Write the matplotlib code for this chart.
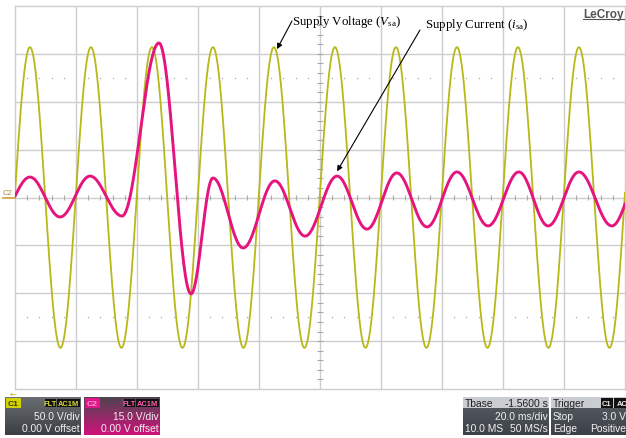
import numpy as np
import matplotlib.pyplot as plt

plt.rcParams['mathtext.fontset'] = 'custom'
plt.rcParams['mathtext.rm'] = 'Liberation Serif'
plt.rcParams['mathtext.it'] = 'Liberation Serif:italic'

# C1: supply voltage, successive half-cycle extrema (time in ms, volts)
volt_times = [-5.1, 4.9, 14.9, 24.9, 34.9, 44.9, 54.9, 64.9, 74.9, 84.9, 94.9,
              104.9, 114.9, 124.9, 134.9, 144.9, 154.9, 164.9, 174.9, 184.9, 194.9, 204.9]
volt_peaks = [-157, 157, -157, 157, -157, 157, -157, 157, -157, 157, -157,
              157, -157, 157, -157, 157, -157, 157, -157, 157, -157, 157]

# C2: supply current, successive half-cycle extrema (time in ms, probe volts)
curr_times = [-5.1, 4.9, 14.8, 24.6, 35.1, 47.2, 57.7, 64.9, 74.8, 85.2, 95.1,
              105.6, 115.4, 125.2, 135.1, 144.9, 155.1, 165.2, 174.8, 184.9, 195.7, 205.5]
curr_peaks = [-6.0, 6.4, -6.1, 6.7, -5.8, 48.4, -30.2, 6.1, -15.8, 5.2, -12.1,
              6.7, -9.9, 7.7, -9.2, 8.0, -8.9, 8.0, -8.9, 8.0, -8.9, 8.0]

volts_per_div = {'C1': 50.0, 'C2': 15.0}
ms_per_div = 20.0

c1_color = '#b8b818'
c2_color = '#e6147f'
grid_color = '#cdcdcd'


def through_extrema(times, peaks, t):
    times = np.asarray(times, dtype=float)
    peaks = np.asarray(peaks, dtype=float)
    k = np.clip(np.searchsorted(times, t) - 1, 0, len(times) - 2)
    frac = (t - times[k]) / (times[k + 1] - times[k])
    return peaks[k] + (peaks[k + 1] - peaks[k]) * (1 - np.cos(np.pi * frac)) / 2


W, H = 626, 439
fig = plt.figure(figsize=(W / 100, H / 100), dpi=100)

# scope screen: 10 x 8 divisions
ax = fig.add_axes([15 / W, (H - 390) / H, 610 / W, 383 / H])
ax.set_xlim(0, 10 * ms_per_div)
ax.set_ylim(-4, 4)
ax.set_xticks([])
ax.set_yticks([])
for spine in ax.spines.values():
    spine.set_color(grid_color)
    spine.set_linewidth(1.0)

for i in range(1, 10):
    ax.axvline(i * ms_per_div, color=grid_color, lw=1.0, zorder=1)
for j in range(-3, 4):
    ax.axhline(j, color=grid_color, lw=1.0, zorder=1)

# minor ticks along the centre cross
minor_x = np.arange(0, 200, 4)
ax.vlines(minor_x, -0.06, 0.06, color='#a9a9a9', lw=0.8, zorder=1)
minor_y = np.arange(-4, 4, 0.2)
ax.hlines(minor_y, 100 - 0.9, 100 + 0.9, color='#a9a9a9', lw=0.8, zorder=1)
dot_x = [x for x in minor_x if x % 20 != 0]
for row in (2.5, -2.5):
    ax.scatter(dot_x, [row] * len(dot_x), s=1.0, color='#a8a8a8', zorder=1, linewidths=0)

t = np.linspace(0, 200, 5000)
v = through_extrema(volt_times, volt_peaks, t) / volts_per_div['C1']
i_sa = through_extrema(curr_times, curr_peaks, t) / volts_per_div['C2']
ax.plot(t, v, color=c1_color, lw=1.3, zorder=3)
ax.plot(t, i_sa, color=c2_color, lw=2.1, zorder=4)

# pixel-space overlay for labels and the status bar
ov = fig.add_axes([0, 0, 1, 1], facecolor='none')
ov.set_xlim(0, W)
ov.set_ylim(H, 0)
ov.axis('off')

serif = 'Liberation Serif'
ov.text(292, 25, r'Supply Voltage ($V_{\mathrm{sa}}$)', family=serif, fontsize=9.3, va='baseline')
ov.text(425, 28, r'Supply Current ($i_{\mathrm{sa}}$)', family=serif, fontsize=9.3, va='baseline')

arrow = dict(arrowstyle='-|>', color='black', lw=0.8, mutation_scale=8, shrinkA=0, shrinkB=0)
ax.annotate('', xy=(volt_times[9] + 1.0, volt_peaks[9] / volts_per_div['C1'] - 0.04),
            xytext=(292, 22), textcoords=ov.transData, arrowprops=arrow)
ax.annotate('', xy=(curr_times[11], curr_peaks[11] / volts_per_div['C2'] + 0.1),
            xytext=(420, 31), textcoords=ov.transData, arrowprops=arrow)

ov.text(624, 18, 'LeCroy', family='Liberation Sans', fontsize=8.5, fontweight='bold',
        color='#555555', ha='right', va='baseline')
ov.plot([583, 624], [20, 20], color='#555555', lw=0.8)

# channel markers at the left edge
ov.text(3, 194, 'C2', family='Liberation Sans', fontsize=5.5, color='#a08a3a', va='center')
ov.plot([3, 15], [199, 199], color='#d0a030', lw=1.2)
ov.text(13, 394, '\u2190', family='DejaVu Sans', fontsize=6, color='#c8b020', ha='center', va='center')


def gradient_box(x0, x1, y0, y1, top, bottom):
    c0 = np.array(plt.matplotlib.colors.to_rgb(top))
    c1 = np.array(plt.matplotlib.colors.to_rgb(bottom))
    f = np.linspace(0, 1, 64)[:, None, None]
    img = c0 * (1 - f) + c1 * f
    ov.imshow(img, extent=(x0, x1, y1, y0), origin='upper', aspect='auto', zorder=2)


def badge(x0, x1, y0, y1, label, bg, fg, size=6.0):
    ov.add_patch(plt.Rectangle((x0, y0), x1 - x0, y1 - y0, facecolor=bg, edgecolor='none', zorder=3))
    ov.text((x0 + x1) / 2, (y0 + y1) / 2 + 0.5, label, family='Liberation Sans', fontsize=size,
            color=fg, ha='center', va='center', zorder=4, fontweight='bold')


sans = 'Liberation Sans'
row2, row3 = 417, 429

# C1 descriptor
gradient_box(5, 81, 398, 436, '#6a6e73', '#3b3f44')
badge(6, 21, 399, 409, 'C1', '#d2d200', '#3a3a00')
badge(45, 56, 400, 408, 'FLT', '#111111', '#d8d830', 5.4)
badge(57, 80, 400, 408, 'AC1M', '#111111', '#d8d830', 5.4)
ov.text(80, row2, '50.0 V/div', family=sans, fontsize=7.4, color='#f0f0f0', ha='right', va='center', zorder=4)
ov.text(80, row3, '0.00 V offset', family=sans, fontsize=7.4, color='#f0f0f0', ha='right', va='center', zorder=4)

# C2 descriptor
gradient_box(84, 160, 398, 436, '#4f4450', '#d0127c')
badge(85, 100, 399, 409, 'C2', '#e0168a', '#ff9ccf')
badge(124, 135, 400, 408, 'FLT', '#111111', '#ff5ab0', 5.4)
badge(136, 159, 400, 408, 'AC1M', '#111111', '#ff5ab0', 5.4)
ov.text(159, row2, '15.0 V/div', family=sans, fontsize=7.4, color='#f0f0f0', ha='right', va='center', zorder=4)
ov.text(159, row3, '0.00 V offset', family=sans, fontsize=7.4, color='#f0f0f0', ha='right', va='center', zorder=4)

# timebase descriptor
gradient_box(463, 549, 398, 436, '#5a5f66', '#3c4148')
ov.add_patch(plt.Rectangle((463, 398), 86, 11, facecolor='#c9ccd0', edgecolor='none', zorder=3))
ov.text(465, 404, 'Tbase', family=sans, fontsize=7.4, color='#202020', va='center', zorder=4)
ov.text(548, 404, '-1.5600 s', family=sans, fontsize=7.4, color='#202020', ha='right', va='center', zorder=4)
ov.text(548, row2, '20.0 ms/div', family=sans, fontsize=7.4, color='#f0f0f0', ha='right', va='center', zorder=4)
ov.text(465, row3, '10.0 MS', family=sans, fontsize=7.4, color='#f0f0f0', va='center', zorder=4)
ov.text(548, row3, '50 MS/s', family=sans, fontsize=7.4, color='#f0f0f0', ha='right', va='center', zorder=4)

# trigger descriptor
gradient_box(551, 630, 398, 436, '#5a5f66', '#3c4148')
ov.add_patch(plt.Rectangle((551, 398), 79, 11, facecolor='#c9ccd0', edgecolor='none', zorder=3))
ov.text(553, 404, 'Trigger', family=sans, fontsize=7.4, color='#202020', va='center', zorder=4)
badge(601, 613, 399, 409, 'C1', '#111111', '#f0f0f0', 5.5)
badge(614, 630, 399, 409, 'AC', '#111111', '#f0f0f0', 5.5)
ov.text(553, row2, 'Stop', family=sans, fontsize=7.4, color='#f0f0f0', va='center', zorder=4)
ov.text(626, row2, '3.0 V', family=sans, fontsize=7.4, color='#f0f0f0', ha='right', va='center', zorder=4)
ov.text(553, row3, 'Edge', family=sans, fontsize=7.4, color='#f0f0f0', va='center', zorder=4)
ov.text(590, row3, 'Positive', family=sans, fontsize=7.4, color='#f0f0f0', va='center', zorder=4)

ov.set_xlim(0, W)
ov.set_ylim(H, 0)

fig.savefig('out.png', dpi=100)
